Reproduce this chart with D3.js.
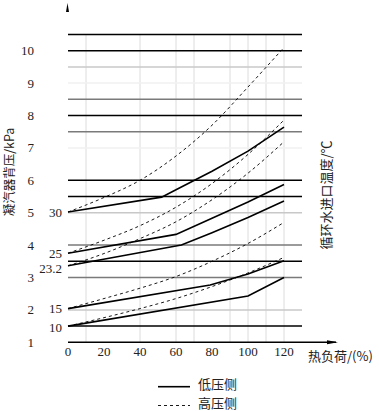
<!DOCTYPE html>
<html><head><meta charset="utf-8">
<script src="https://cdn.jsdelivr.net/npm/d3@7"></script>
<style>body{margin:0;background:#fff}svg{display:block}</style>
</head><body>
<script>
// ---- data ----
const pressureTicks = [1,2,3,4,5,6,7,8,9,10];
const loadTicks = [0,20,40,60,80,100,120];
const gridLoads = [10,40,60,70,90,100,110,120];
const refBlack = [10.5,10,8,6,5.5,3.5,1.5];
const refGray = [8.5,7.5,4,3];
const refLight = [9.5,5,2];
const refFaint = [9,7];
const tempLabels = ["30","25","23.2","15","10"];
const tempStart = [5.02,3.75,3.36,2.04,1.5];

const low30Load = [0,52,60,80,100,120];
const low30 = [5.02,5.48,5.71,6.28,6.90,7.64];
const low25Load = [0,60,80,100,120];
const low25 = [3.75,4.33,4.83,5.33,5.87];
const low23Load = [0,63,80,100,120];
const low23 = [3.36,4.00,4.38,4.85,5.36];
const low15Load = [0,79,100,120];
const low15 = [2.04,2.77,3.11,3.52];
const low10Load = [0,100,120];
const low10 = [1.5,2.43,3.0];

const highLoad = [0,20,40,60,80,100,120];
const high30 = [5.02,5.47,6.0,6.75,7.7,8.88,10.1];
const high25 = [3.75,4.15,4.6,5.17,5.9,6.8,7.86];
const high23 = [3.36,3.74,4.2,4.72,5.4,6.22,7.19];
const high15 = [2.04,2.35,2.67,3.03,3.5,4.05,4.7];
const high10 = [1.5,1.76,2.04,2.35,2.72,3.14,3.62];

const legendLabels = ["低压侧","高压侧"];
const xTitle = "热负荷/(%)";
const yTitle = "凝汽器背压/kPa";
const y2Title = "循环水进口温度/℃";

// ---- drawing ----
const W = 379, H = 411;
const svg = d3.select("body").append("svg").attr("width",W).attr("height",H);
const x = d3.scaleLinear().domain([0,120]).range([68,284]);
const y = d3.scaleLinear().domain([1,10]).range([342.3,50.7]);
const serif = "'Liberation Serif','Times New Roman',serif";
const cjk = "'Noto Sans CJK SC',sans-serif";
const xEnd = x(130);

// vertical grid
svg.append("g").selectAll("line").data(gridLoads).join("line")
  .attr("x1",d=>x(d)).attr("x2",d=>x(d)).attr("y1",y(10.5)).attr("y2",y(1))
  .attr("stroke","#dcdcdc").attr("stroke-width",1);

function hlines(arr,color,w){
  svg.append("g").selectAll("line").data(arr).join("line")
    .attr("x1",x(0)).attr("x2",xEnd).attr("y1",d=>y(d)).attr("y2",d=>y(d))
    .attr("stroke",color).attr("stroke-width",w);
}
hlines(refFaint,"#f0f0f0",1.5);
hlines(refLight,"#c8c8c8",1.5);
hlines(refGray,"#7a7a7a",1.5);
hlines(refBlack,"#000",1.5);

// x axis with arrow
svg.append("line").attr("x1",x(0)).attr("x2",336).attr("y1",y(1)).attr("y2",y(1))
  .attr("stroke","#000").attr("stroke-width",1.5);
svg.append("path").attr("d",`M338,${y(1)} L327,${y(1)-2} L327,${y(1)+2} Z`).attr("fill","#000");
// y axis arrow tip
svg.append("path").attr("d","M67.5,3 L69,12 L66,12 Z").attr("fill","#000");

// x tick labels
svg.append("g").selectAll("text").data(loadTicks).join("text")
  .attr("x",d=>x(d)).attr("y",356).attr("text-anchor","middle")
  .attr("font-family",serif).attr("font-size",13).attr("fill","#222").text(d=>d);
// pressure labels
svg.append("g").selectAll("text").data(pressureTicks).join("text")
  .attr("x",34).attr("y",d=>y(d)+4.5).attr("text-anchor","end")
  .attr("font-family",serif).attr("font-size",13).attr("fill","#222").text(d=>d);
// temperature labels
svg.append("g").selectAll("text").data(tempLabels).join("text")
  .attr("x",62).attr("y",(d,i)=>y(tempStart[i])+4.5 + (d==="23.2"?2.5:0) + (d==="10"?1:0))
  .attr("text-anchor","end")
  .attr("font-family",serif).attr("font-size",13).attr("fill","#222").text(d=>d);

// curves
const lineLin = d3.line().x(d=>x(d[0])).y(d=>y(d[1])).curve(d3.curveLinear);
const lineSm = d3.line().x(d=>x(d[0])).y(d=>y(d[1])).curve(d3.curveMonotoneX);
const lows = [[low30Load,low30],[low25Load,low25],[low23Load,low23],[low15Load,low15],[low10Load,low10]];
const highs = [high30,high25,high23,high15,high10];
svg.append("g").selectAll("path").data(highs).join("path")
  .attr("d",v=>lineSm(highLoad.map((l,i)=>[l,v[i]])))
  .attr("fill","none").attr("stroke","#000").attr("stroke-width",0.9).attr("stroke-dasharray","3,3");
svg.append("g").selectAll("path").data(lows).join("path")
  .attr("d",s=>lineLin(s[0].map((l,i)=>[l,s[1][i]])))
  .attr("fill","none").attr("stroke","#000").attr("stroke-width",1.6);

// titles
svg.append("text").attr("x",308).attr("y",361).attr("font-family",cjk).attr("font-size",13)
  .attr("fill","#222").text(xTitle);
svg.append("text").attr("transform","translate(14,172) rotate(-90)").attr("text-anchor","middle")
  .attr("font-family",cjk).attr("font-size",12.5).attr("fill","#222").text(yTitle);
svg.append("text").attr("transform","translate(331,195) rotate(-90)").attr("text-anchor","middle")
  .attr("font-family",cjk).attr("font-size",13).attr("fill","#222").text(y2Title);

// legend
const lg = svg.append("g");
lg.append("line").attr("x1",158).attr("x2",190).attr("y1",386.7).attr("y2",386.7)
  .attr("stroke","#000").attr("stroke-width",1.6);
lg.append("line").attr("x1",158).attr("x2",190).attr("y1",405.5).attr("y2",405.5)
  .attr("stroke","#000").attr("stroke-width",0.9).attr("stroke-dasharray","3,3");
lg.selectAll("text").data(legendLabels).join("text")
  .attr("x",198).attr("y",(d,i)=>389+i*19).attr("font-family",cjk).attr("font-size",13)
  .attr("fill","#222").text(d=>d);
</script>
</body></html>
